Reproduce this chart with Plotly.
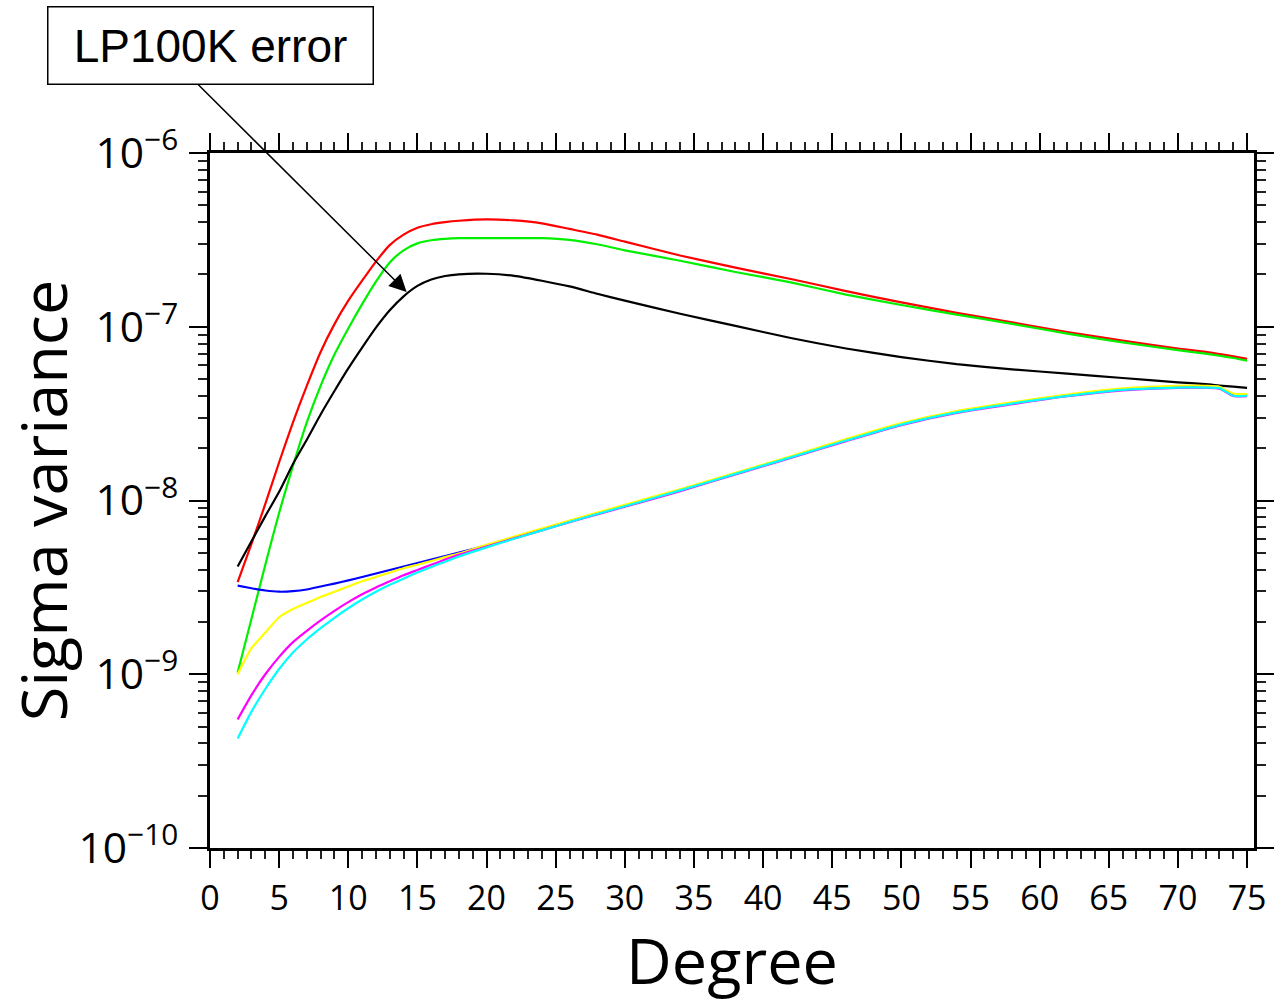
import plotly.graph_objects as go

# Spherical-harmonic degree at which each curve is sampled
degree = [2, 3, 4, 5, 6, 7, 8, 9, 10, 11, 12, 13, 14, 15, 16, 17, 18, 20, 22, 24,
          26, 28, 30, 34, 38, 42, 46, 50, 54, 58, 62, 66, 70, 72, 73, 74, 75]

# Sigma variance per degree, stored as log10 exponents
log_red = [-8.47, -8.25, -8.02, -7.78, -7.55, -7.34, -7.145, -6.985, -6.85, -6.735,
           -6.625, -6.53, -6.47, -6.43, -6.41, -6.398, -6.39, -6.382, -6.388, -6.405,
           -6.437, -6.47, -6.51, -6.59, -6.66, -6.725, -6.795, -6.86, -6.92, -6.975,
           -7.03, -7.08, -7.125, -7.145, -7.157, -7.17, -7.185]
log_green = [-8.99, -8.68, -8.37, -8.07, -7.80, -7.55, -7.34, -7.16, -7.01, -6.87,
             -6.74, -6.63, -6.56, -6.52, -6.502, -6.494, -6.49, -6.49, -6.49, -6.49,
             -6.50, -6.525, -6.56, -6.62, -6.685, -6.745, -6.815, -6.875, -6.93, -6.983,
             -7.04, -7.09, -7.135, -7.155, -7.167, -7.18, -7.195]
log_black = [-8.38, -8.235, -8.09, -7.95, -7.79, -7.65, -7.505, -7.37, -7.24, -7.12,
             -7.005, -6.905, -6.825, -6.765, -6.728, -6.708, -6.698, -6.695, -6.707, -6.735,
             -6.768, -6.81, -6.85, -6.925, -6.995, -7.065, -7.125, -7.175, -7.215, -7.245,
             -7.27, -7.295, -7.32, -7.33, -7.338, -7.345, -7.352]
log_blue = [-8.49, -8.505, -8.518, -8.525, -8.522, -8.512, -8.495, -8.478, -8.46, -8.44,
            -8.42, -8.40, -8.38, -8.36, -8.34, -8.32, -8.30, -8.258, -8.212, -8.167,
            -8.12, -8.075, -8.03, -7.94, -7.845, -7.75, -7.652, -7.56, -7.49, -7.44,
            -7.395, -7.36, -7.345, -7.345, -7.35, -7.39, -7.392]
log_yellow = [-9.00, -8.85, -8.76, -8.672, -8.625, -8.59, -8.555, -8.525, -8.495, -8.465,
              -8.44, -8.415, -8.39, -8.37, -8.348, -8.326, -8.305, -8.255, -8.208, -8.162,
              -8.115, -8.07, -8.025, -7.935, -7.84, -7.745, -7.647, -7.555, -7.485, -7.435,
              -7.39, -7.355, -7.34, -7.34, -7.345, -7.385, -7.388]
log_magenta = [-9.26, -9.12, -9.00, -8.90, -8.815, -8.75, -8.69, -8.635, -8.585, -8.54,
               -8.50, -8.465, -8.43, -8.40, -8.37, -8.34, -8.312, -8.265, -8.218, -8.172,
               -8.125, -8.08, -8.036, -7.946, -7.85, -7.755, -7.658, -7.566, -7.496, -7.446,
               -7.40, -7.366, -7.352, -7.352, -7.356, -7.398, -7.40]
log_cyan = [-9.37, -9.215, -9.085, -8.97, -8.875, -8.80, -8.735, -8.675, -8.62, -8.57,
            -8.525, -8.485, -8.45, -8.415, -8.383, -8.352, -8.322, -8.27, -8.22, -8.172,
            -8.124, -8.078, -8.033, -7.942, -7.847, -7.752, -7.655, -7.563, -7.493, -7.442,
            -7.398, -7.363, -7.35, -7.35, -7.353, -7.397, -7.397]

curves = [
    ("#ff0000", log_red),
    ("#00f000", log_green),
    ("#000000", log_black),
    ("#0000ff", log_blue),
    ("#ffff00", log_yellow),
    ("#ff00ff", log_magenta),
    ("#00ffff", log_cyan),
]

TICK_FONT = dict(family="Open Sans", size=34, color="black")
TITLE_FONT = dict(family="Open Sans", size=63, color="black")

fig = go.Figure()
for color, logs in curves:
    fig.add_trace(go.Scatter(
        x=degree,
        y=[10 ** v for v in logs],
        mode="lines",
        line=dict(color=color, width=2.2, shape="spline", smoothing=0.6),
        showlegend=False,
        hoverinfo="skip",
    ))

fig.update_layout(
    width=1274,
    height=1002,
    margin=dict(l=210, r=20, t=153, b=154),
    paper_bgcolor="white",
    plot_bgcolor="white",
    showlegend=False,
)

fig.update_xaxes(
    automargin=False,
    range=[0, 75.5],
    tick0=0,
    dtick=5,
    ticks="outside",
    ticklen=17,
    tickwidth=2,
    tickcolor="black",
    ticklabelstandoff=1,
    minor=dict(dtick=1, ticks="outside", ticklen=8, tickwidth=1.5, tickcolor="#222"),
    showline=True,
    linewidth=3,
    linecolor="black",
    mirror="allticks",
    showgrid=False,
    zeroline=False,
    tickfont=TICK_FONT,
    title=dict(text="Degree", font=TITLE_FONT, standoff=28),
)

fig.update_yaxes(
    automargin=False,
    type="log",
    range=[-10, -6],
    dtick=1,
    exponentformat="power",
    showexponent="all",
    ticks="outside",
    ticklen=18,
    tickwidth=2,
    tickcolor="black",
    ticklabelstandoff=4,
    minor=dict(dtick="D1", ticks="outside", ticklen=9, tickwidth=1.5, tickcolor="#222"),
    showline=True,
    linewidth=3,
    linecolor="black",
    mirror="allticks",
    showgrid=False,
    zeroline=False,
    tickfont=TICK_FONT,
    title=dict(text="Sigma variance", font=TITLE_FONT, standoff=30),
)

# Label box
fig.add_annotation(
    xref="paper", yref="paper",
    x=0.0, y=1.155,
    text="LP100K error",
    showarrow=False,
    font=dict(family="Liberation Sans", size=46, color="black"),
    bgcolor="white",
    bordercolor="black",
    borderwidth=1.5,
    borderpad=2,
    width=320,
    height=72,
    xanchor="center",
    yanchor="middle",
)

# Pointer from the label to the black curve
fig.add_annotation(
    x=14.22, y=-6.80,
    xref="x", yref="y",
    ax=-210, ay=-209,
    text="",
    showarrow=True,
    arrowhead=2,
    arrowsize=2.3,
    arrowwidth=1.5,
    arrowcolor="black",
    standoff=0,
)

fig.write_html("out.html")
